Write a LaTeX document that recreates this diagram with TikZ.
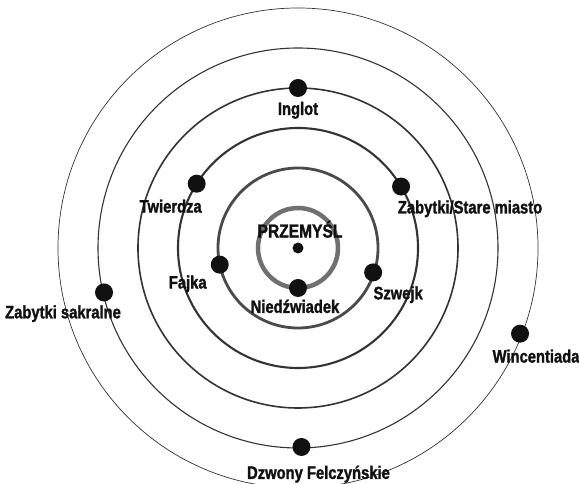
\documentclass[tikz,border=0pt]{standalone}
\usepackage{fontspec}
\setmainfont{Liberation Sans Bold}[FakeStretch=0.82, FakeBold=1.5]
\usepackage{tikz}
\usetikzlibrary{positioning, calc}

\definecolor{ringgray}{HTML}{707070}
\definecolor{ringdark}{HTML}{4A4A4A}
\definecolor{ringline}{HTML}{333333}
\definecolor{dotblack}{HTML}{111111}

\begin{document}
\begin{tikzpicture}[
    x=1pt, y=1pt,
    dot/.style={circle, fill=dotblack, inner sep=0pt, minimum size=18pt},
    core/.style={circle, fill=dotblack, inner sep=0pt, minimum size=11pt},
    lbl/.style={inner sep=0pt, text height=13pt, text depth=0pt, font=\fontsize{18}{20}\selectfont, text=dotblack},
    title/.style={inner sep=0pt, text height=13pt, text depth=0pt, font=\fontsize{19}{21}\selectfont, text=dotblack},
]
    \useasboundingbox (0,0) rectangle (579,484);
    \coordinate (c) at (298,236);

    % Orbits
    \draw[ringgray, line width=4.5pt] (c) circle[radius=40];
    \draw[ringdark, line width=2.8pt] (c) circle[radius=80];
    \draw[ringline, line width=2.1pt] (c) circle[radius=120];
    \draw[ringline, line width=1.6pt] (c) circle[radius=160];
    \draw[ringline, line width=1.1pt] (c) circle[radius=200];
    \draw[ringline, line width=0.7pt] (c) circle[radius=240];

    % Centre
    \node[core] (przemysl) at (c) {};
    \node[title, above=4.5pt of przemysl, xshift=2pt] (przemysltxt) {PRZEMYŚL};

    % First orbit
    \node[dot] (niedz) at ($(c)+(-90:40)$) {};
    \node[lbl, below=2.5pt of niedz, xshift=-3pt] (niedztxt) {Niedźwiadek};

    % Second orbit
    \node[dot] (fajka) at ($(c)+(192:80)$) {};
    \node[lbl, below=1.5pt of fajka, xshift=-32pt] (fajkatxt) {Fajka};
    \node[dot] (szwejk) at ($(c)+(-18:79)$) {};
    \node[lbl, below=4.5pt of szwejk, xshift=25pt] (szwejktxt) {Szwejk};

    % Third orbit
    \node[dot] (twierdza) at ($(c)+(147.6:120)$) {};
    \node[lbl, below=6.5pt of twierdza, xshift=-26pt] (twierdzatxt) {Twierdza};
    \node[dot] (stare) at ($(c)+(30.8:120)$) {};
    \node[lbl, below=4.5pt of stare, xshift=69pt] (staretxt) {Zabytki/Stare miasto};

    % Fourth orbit
    \node[dot] (inglot) at ($(c)+(90:160)$) {};
    \node[lbl, below=4.5pt of inglot] (inglottxt) {Inglot};

    % Fifth orbit
    \node[dot] (sakralne) at ($(c)+(192.9:199)$) {};
    \node[lbl, below=3.5pt of sakralne, xshift=-41pt] (sakralnetxt) {Zabytki sakralne};
    \node[dot] (dzwony) at ($(c)+(-89:199)$) {};
    \node[lbl, below=9.5pt of dzwony, xshift=17pt] (dzwonytxt) {Dzwony Felczyńskie};

    % Sixth orbit
    \node[dot] (wincent) at ($(c)+(-21.1:238)$) {};
    \node[lbl, below=6.5pt of wincent, xshift=16pt] (wincenttxt) {Wincentiada};
\end{tikzpicture}
\end{document}
